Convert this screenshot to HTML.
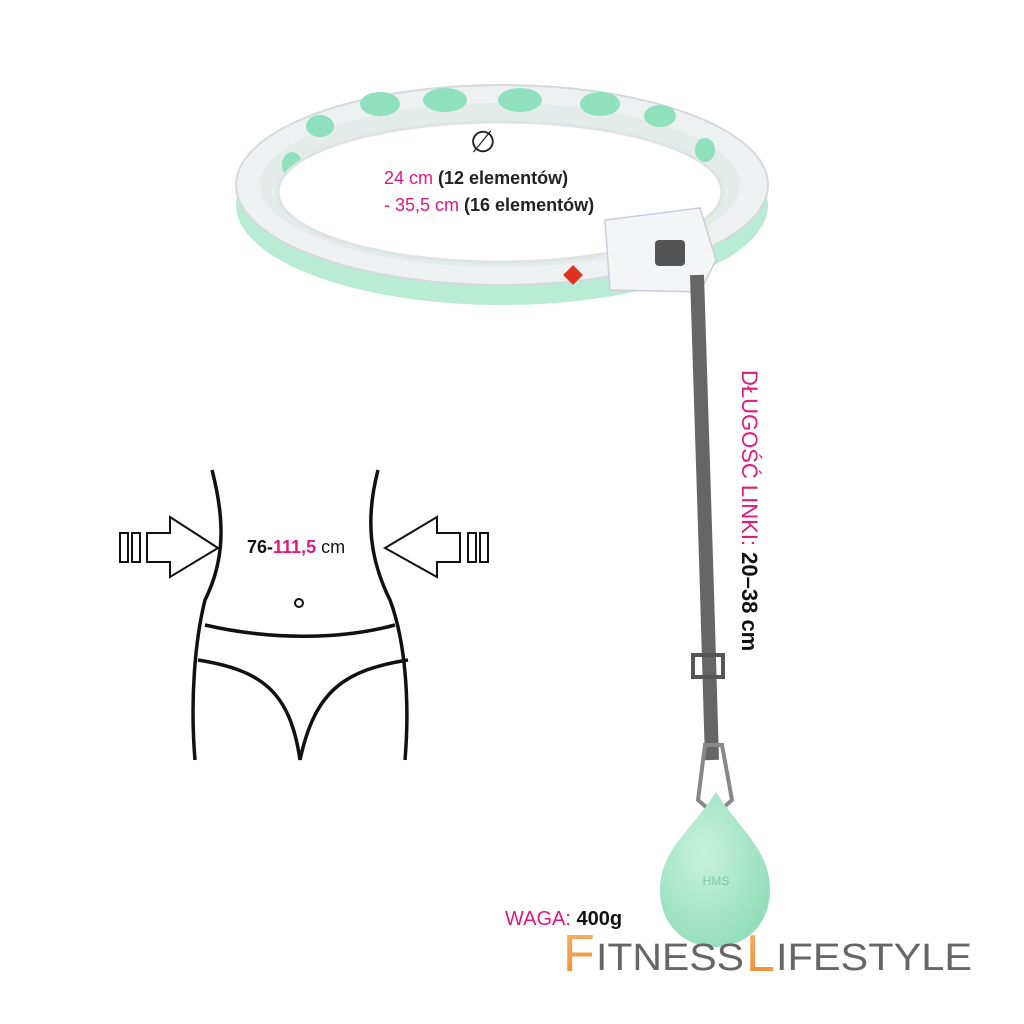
<!DOCTYPE html>
<html><head><meta charset="utf-8"><style>
html,body{margin:0;padding:0;background:#fff;}
svg{display:block;}
text{font-family:"Liberation Sans",sans-serif;}
</style></head><body>
<svg width="1024" height="1024" viewBox="0 0 1024 1024" xmlns="http://www.w3.org/2000/svg">
<defs>
<linearGradient id="og" x1="0" y1="0" x2="0" y2="1"><stop offset="0" stop-color="#f6b26b"/><stop offset="1" stop-color="#f08a2c"/></linearGradient>
<radialGradient id="dg" cx="0.4" cy="0.4" r="0.7"><stop offset="0" stop-color="#c8f2dd"/><stop offset="1" stop-color="#8fdcb8"/></radialGradient>
</defs>
<!-- hoop -->
<ellipse cx="502" cy="205" rx="266" ry="100" fill="#b9ecd5"/>
<ellipse cx="502" cy="185" rx="266" ry="100" fill="#eef1f2" stroke="#d5d9db" stroke-width="2"/>
<ellipse cx="500" cy="185" rx="240" ry="82" fill="#e4ece9"/>
<g fill="#8fe0bd">
<ellipse cx="380" cy="104" rx="20" ry="12"/><ellipse cx="445" cy="100" rx="22" ry="12"/><ellipse cx="520" cy="100" rx="22" ry="12"/><ellipse cx="600" cy="104" rx="20" ry="12"/><ellipse cx="660" cy="116" rx="16" ry="11"/><ellipse cx="320" cy="126" rx="14" ry="11"/><ellipse cx="292" cy="165" rx="10" ry="13"/><ellipse cx="705" cy="150" rx="10" ry="12"/>
</g>
<ellipse cx="500" cy="192" rx="222" ry="70" fill="#fff"/>
<ellipse cx="500" cy="192" rx="222" ry="70" fill="none" stroke="#dfe3e5" stroke-width="3"/>
<!-- connector -->
<path d="M605 220 L700 208 L716 260 L700 292 L610 290 Z" fill="#f4f5f6" stroke="#ccd" stroke-width="1.5"/>
<rect x="655" y="240" width="30" height="26" fill="#555" rx="4"/>
<rect x="566" y="268" width="14" height="14" fill="#e03020" transform="rotate(45 573 275)"/>
<!-- text ring -->
<text x="483" y="152" font-size="30" text-anchor="middle" fill="#222">∅</text>
<text x="384" y="184" font-size="18" fill="#e0197d">24 cm <tspan fill="#222" font-weight="bold">(12 elementów)</tspan></text>
<text x="384" y="211" font-size="18" fill="#e0197d">- 35,5 cm <tspan fill="#222" font-weight="bold">(16 elementów)</tspan></text>
<!-- rope -->
<path d="M697 275 C700 400 708 600 712 760" stroke="#666" stroke-width="14" fill="none"/>
<rect x="693" y="655" width="30" height="22" fill="none" stroke="#555" stroke-width="4"/>
<path d="M705 745 L698 800 L715 815 L732 800 L722 745 Z" fill="none" stroke="#888" stroke-width="4"/>
<!-- drop -->
<path d="M716 792 C740 830 770 850 770 890 C770 925 745 947 715 947 C685 947 660 925 660 890 C660 850 692 830 716 792 Z" fill="url(#dg)"/>
<text x="716" y="885" font-size="12" fill="#7cc9a6" text-anchor="middle">HMS</text>
<!-- vertical text -->
<text transform="translate(742 370) rotate(90)" font-size="22" fill="#e0197d">DŁUGOŚĆ LINKI: <tspan fill="#111" font-weight="bold">20–38 cm</tspan></text>
<!-- body -->
<g fill="none" stroke="#111" stroke-width="3.5">
<path d="M212 470 C225 520 225 560 205 600 C195 640 190 700 195 760"/>
<path d="M378 470 C365 520 370 560 390 600 C405 640 410 700 405 760"/>
<path d="M205 625 C270 640 340 640 395 625"/>
<path d="M198 660 C260 670 290 690 300 760"/>
<path d="M408 660 C345 670 315 690 300 760"/>
<circle cx="299" cy="603" r="4" stroke-width="2"/>
<path d="M147 533 L170 533 L170 517 L218 548 L170 577 L170 562 L147 562 Z" stroke-width="2"/>
<rect x="120" y="533" width="8" height="29" stroke-width="2"/><rect x="132" y="533" width="8" height="29" stroke-width="2"/>
<path d="M460 533 L437 533 L437 517 L385 548 L437 577 L437 562 L460 562 Z" stroke-width="2"/>
<rect x="468" y="533" width="8" height="29" stroke-width="2"/><rect x="480" y="533" width="8" height="29" stroke-width="2"/>
</g>
<text x="247" y="553" font-size="18" font-weight="bold" fill="#111">76-<tspan fill="#e0197d">111,5</tspan> <tspan font-weight="normal">cm</tspan></text>
<!-- waga -->
<text x="505" y="925" font-size="20" fill="#e0197d">WAGA: <tspan fill="#111" font-weight="bold">400g</tspan></text>
<!-- logo -->
<text x="563" y="971" font-size="52" fill="url(#og)">F</text>
<text x="596" y="970" font-size="38" fill="#666" textLength="148" lengthAdjust="spacingAndGlyphs">ITNESS</text>
<text x="746" y="971" font-size="52" fill="url(#og)">L</text>
<text x="776" y="970" font-size="38" fill="#666" textLength="196" lengthAdjust="spacingAndGlyphs">IFESTYLE</text>
</svg>
</body></html>
